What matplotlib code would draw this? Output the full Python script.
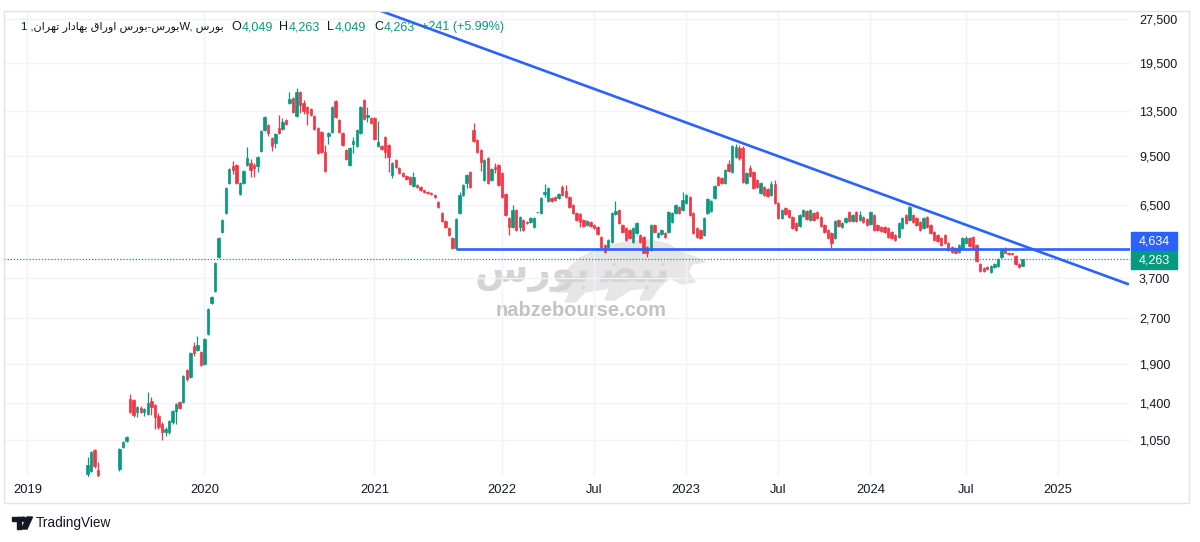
import numpy as np
import matplotlib
matplotlib.use("Agg")
import matplotlib.pyplot as plt
from matplotlib.patches import Rectangle, Ellipse, Polygon
from matplotlib.ticker import NullLocator, NullFormatter

nan = float("nan")

# weekly candles, oldest first (nan = weeks below the visible price range)
opens = [809, 828, 974, 834, nan, nan, nan, nan, nan, 841,
         997, 1044, 1445, 1434, 1307, 1348, 1307, 1287, 1423, 1379,
         1267, 1191, 1120, 1120, 1209, 1317, 1412, 1412, 1808, 1713,
         2177, 2110, 2078, 1893, 2388, 3034, 3329, 4330, 5294, 6131,
         7731, 8821, 8889, 7103, 7731, 8889, 9029, 8889, 8821, 9905,
         11651, 12111, 10951, 10535, 11833, 11742, 12588, 14355, 14923, 12983,
         15630, 14355, 13919, 13707, 12983, 11833, 11473, 9829, 11123, 11473,
         14581, 12588, 11385, 9982, 8889, 10455, 10295, 11385, 14694, 12883,
         12785, 12785, 10295, 10295, 11036, 10375, 8227, 9239, 8685, 8356,
         8164, 8100, 7556, 7615, 7497, 7326, 7214, 7159, 7048, 6677,
         6131, 5764, 5460, 5054, 4650, 6131, 7048, 7731, 8420, 11651,
         10784, 9982, 7915, 9382, 7915, 8753, 8889, 8356, 7103, 5899,
         5503, 6276, 5503, 5809, 5720, 5720, 5503, 6150, 6131, 7103,
         6728, 6887, 6940, 6887, 7497, 7270, 6940, 6524, 6131, 6084,
         5809, 5589, 5720, 5589, 5503, 5093, 4788, 4714, 4900, 6084,
         6276, 5589, 5460, 5377, 4900, 5253, 5173, 5093, 4714, 4606,
         5589, 5093, 5213, 5253, 5294, 5720, 6131, 6424, 6276, 6626,
         6940, 6131, 5460, 5377, 5173, 6131, 6226, 6887, 8100, 8036,
         7731, 8958, 8420, 9455, 10134, 10134, 7731, 8685, 8420, 7915,
         7159, 7497, 7383, 7048, 7672, 6626, 5899, 6374, 6276, 5945,
         5677, 5546, 5991, 6226, 5809, 6131, 6178, 5945, 5589, 5377,
         5253, 5054, 5809, 5503, 5720, 6178, 5764, 6178, 5809, 5945,
         5854, 5634, 6038, 5589, 5503, 5503, 5460, 5294, 5173, 5093,
         5460, 6038, 5809, 6038, 5899, 5720, 5460, 5945, 5589, 5294,
         5173, 5054, 5173, 4862, 4714, 4678, 4535, 4678, 4862, 5054,
         5093, 4788, 4102, 3976, 4007, 3857, 4007, 4038, 4330, 4606,
         4500, 4466, 4364, 4102, 4049]
highs = [923, 967, 982, 888, nan, nan, nan, nan, nan, 990,
         1044, 1086, 1502, 1445, 1369, 1369, 1348, 1525, 1468, 1390,
         1297, 1209, 1164, 1228, 1327, 1401, 1423, 1739, 1822, 2078,
         2244, 2352, 2094, 2315, 2919, 3203, 4166, 5093, 5854, 7497,
         8685, 9168, 8958, 7791, 8551, 10213, 9310, 9029, 9529, 11651,
         12983, 12205, 11036, 11385, 13084, 12785, 12686, 15630, 15039, 16125,
         15750, 14694, 14027, 13813, 13084, 11925, 11561, 10375, 11473, 14027,
         14694, 12686, 11473, 10059, 10213, 11036, 11742, 14027, 14808, 13919,
         12883, 12883, 12491, 10375, 11123, 10455, 9098, 9310, 8753, 8420,
         8227, 8164, 8420, 7672, 7556, 7326, 7230, 7170, 7060, 6728,
         6178, 5809, 5503, 5093, 5899, 7214, 7672, 8290, 8485, 12301,
         10867, 10059, 9310, 9455, 8685, 9029, 8958, 8420, 7159, 5945,
         6524, 6325, 5991, 5854, 5764, 5945, 5945, 6180, 6940, 7672,
         7497, 6940, 6994, 7159, 7615, 7615, 6994, 6575, 6178, 6131,
         5854, 5809, 5764, 5634, 5546, 5133, 4825, 5015, 6178, 6728,
         6325, 5634, 5503, 5419, 5503, 5720, 5213, 5133, 4751, 5634,
         5634, 5294, 5419, 5294, 6226, 6178, 6575, 6474, 7214, 7103,
         6994, 6178, 5503, 5419, 5945, 6887, 6781, 7615, 8164, 8100,
         8618, 9239, 10375, 10455, 10375, 10295, 8420, 8889, 8485, 7976,
         7791, 7556, 7440, 7854, 7915, 6677, 6325, 6424, 6325, 5991,
         5720, 6084, 6325, 6276, 6325, 6178, 6226, 5991, 5634, 5419,
         5294, 5809, 5854, 5720, 5945, 6226, 6084, 6226, 6226, 5991,
         5899, 6226, 6084, 5634, 5546, 5546, 5503, 5336, 5213, 5720,
         5945, 6084, 6474, 6084, 5945, 5764, 5945, 5991, 5634, 5336,
         5213, 5093, 5213, 4900, 4751, 4714, 4825, 5093, 5133, 5093,
         5133, 4825, 4134, 4007, 4038, 4070, 4134, 4297, 4678, 4714,
         4535, 4466, 4398, 4134, 4263]
lows = [790, 822, 847, 790, nan, nan, nan, nan, nan, 828,
        990, 1036, 1297, 1258, 1258, 1297, 1267, 1277, 1277, 1146,
        1146, 1053, 1086, 1102, 1191, 1191, 1337, 1401, 1660, 1700,
        2015, 2094, 1864, 1878, 2370, 3011, 3303, 4297, 5253, 6084,
        7672, 8290, 7672, 7048, 7672, 8821, 8100, 8100, 8420, 9829,
        11561, 11123, 9905, 10134, 11297, 11651, 12111, 14245, 13288, 12883,
        13288, 13186, 12111, 12983, 11651, 9679, 9754, 8420, 10455, 11385,
        12785, 11385, 10295, 9239, 8821, 9754, 10213, 11297, 12588, 12395,
        12205, 10784, 10213, 9982, 9382, 8420, 8036, 8685, 8290, 8100,
        7915, 7615, 7497, 7440, 7270, 7159, 7100, 7048, 6887, 6374,
        5720, 5460, 5133, 4640, 4634, 6084, 6994, 7440, 7440, 10619,
        9754, 8485, 7854, 7672, 7854, 8356, 7556, 6887, 5991, 5173,
        5460, 5336, 5336, 5336, 5634, 5677, 5460, 6130, 6084, 6940,
        6677, 6677, 6728, 6834, 6994, 6887, 6374, 6084, 5764, 5503,
        5503, 5546, 5503, 5419, 5173, 4678, 4500, 4678, 4862, 6038,
        5634, 5253, 4938, 5015, 4862, 5213, 4862, 4466, 4330, 4570,
        5253, 5054, 5173, 5054, 5253, 5677, 6084, 6084, 6226, 6575,
        5991, 5213, 5054, 5015, 5133, 6084, 6178, 6834, 7556, 7672,
        7672, 8420, 8356, 9382, 9239, 7731, 7672, 8100, 7383, 7440,
        7103, 6994, 6940, 6994, 6575, 5854, 5854, 6038, 5899, 5419,
        5336, 5503, 5945, 5809, 5764, 5764, 5854, 5503, 5253, 5015,
        4678, 5015, 5503, 5460, 5677, 5720, 5720, 5720, 5764, 5677,
        5546, 5589, 5336, 5336, 5290, 5253, 5054, 5015, 4938, 5054,
        5419, 5634, 5764, 5677, 5546, 5336, 5419, 5460, 5213, 4938,
        4900, 4751, 4825, 4570, 4500, 4466, 4500, 4641, 4825, 4714,
        4641, 4166, 3857, 3857, 3916, 3827, 3976, 4007, 4297, 4466,
        4415, 4398, 4070, 3976, 4049]
closes = [867, 959, 860, 803, nan, nan, nan, nan, nan, 982,
          1036, 1077, 1307, 1277, 1358, 1307, 1337, 1401, 1358, 1258,
          1164, 1120, 1146, 1219, 1317, 1390, 1348, 1725, 1686, 2062,
          2062, 2193, 1878, 2297, 2897, 3178, 4134, 5054, 5809, 7440,
          8618, 8551, 7731, 7731, 8485, 9382, 8551, 8685, 9455, 11561,
          12883, 11385, 10295, 11297, 11385, 12395, 12205, 14808, 13391, 15630,
          14136, 13495, 13288, 13084, 11742, 9754, 9829, 8485, 11385, 13919,
          12883, 11473, 10375, 9310, 10134, 10701, 11651, 13919, 12686, 13084,
          12301, 10867, 10619, 10059, 9829, 9455, 9029, 8753, 8356, 8164,
          7976, 7672, 8100, 7497, 7326, 7214, 7130, 7060, 6940, 6424,
          5764, 5503, 5173, 4660, 5854, 7048, 7615, 8227, 7497, 10701,
          9829, 9098, 9239, 7731, 8618, 8618, 7615, 6940, 6038, 5503,
          6276, 5377, 5945, 5377, 5677, 5899, 5899, 6178, 6887, 7214,
          7440, 6728, 6781, 7103, 7048, 6940, 6424, 6131, 5809, 5720,
          5546, 5764, 5546, 5460, 5213, 4714, 4535, 4977, 6131, 6226,
          5677, 5294, 4977, 5054, 5460, 5677, 4900, 4500, 4466, 5589,
          5294, 5253, 5377, 5093, 6178, 6131, 6524, 6131, 6781, 7048,
          6038, 5253, 5093, 5054, 5899, 6834, 6728, 7556, 7615, 7731,
          8551, 8485, 10295, 10213, 9382, 7791, 8356, 8164, 7440, 7497,
          7731, 7048, 6994, 7672, 6626, 5899, 6276, 6084, 5945, 5460,
          5377, 6038, 6276, 5854, 6276, 5809, 5899, 5546, 5294, 5054,
          4862, 5764, 5546, 5677, 5899, 5764, 6038, 5764, 6038, 5720,
          5589, 6178, 5377, 5377, 5336, 5294, 5093, 5054, 4977, 5677,
          5899, 5677, 6424, 5720, 5589, 5377, 5899, 5503, 5253, 4977,
          4938, 4788, 4862, 4606, 4535, 4500, 4788, 5054, 5054, 4751,
          4678, 4199, 3886, 3886, 3946, 4038, 4102, 4264, 4606, 4500,
          4432, 4432, 4102, 4022, 4263]

# drawings on the chart
support_level = 4634
support_start = 104
trend_bars = [75, 294]
trend_prices = [31650, 3514]

price_ticks = [1050, 1400, 1900, 2700, 3700, 6500, 9500, 13500, 19500, 27500]
time_tick_bars = [-17, 33, 81, 117, 143, 169, 195, 221, 248, 274]
time_tick_labels = ["2019", "2020", "2021", "2022", "Jul", "2023", "Jul", "2024", "Jul", "2025"]

GREEN = "#089981"
RED = "#F23645"
BLUE = "#2962FF"
TEXT = "#131722"
GRID = "#f0f3fa"

plt.rcParams["font.family"] = ["Liberation Sans", "DejaVu Sans"]

W, H = 1200, 542
fig = plt.figure(figsize=(W / 100, H / 100), dpi=100)
fig.patch.set_facecolor("white")


def fx(px):
    return px / W


def fy(py):
    return 1 - py / H


ax = fig.add_axes([fx(4), fy(477), fx(1130) - fx(4), fy(11) - fy(477)])
ax.set_facecolor("none")
ax.set_yscale("log")
ax.set_xlim(-23.6, 294.3)
ax.set_ylim(790, 29250)

o = np.array(opens, dtype=float)
hi = np.array(highs, dtype=float)
lo = np.array(lows, dtype=float)
c = np.array(closes, dtype=float)
x = np.arange(len(o))
ok = ~np.isnan(o)
cols = np.where(c >= o, GREEN, RED)
ax.vlines(x[ok], lo[ok], hi[ok], colors=cols[ok], linewidth=0.9, zorder=3)
ax.bar(x[ok], np.abs(c - o)[ok], bottom=np.minimum(o, c)[ok], width=0.68,
       color=cols[ok], edgecolor=cols[ok], linewidth=0.5, zorder=4)

# trend line, support line, last price line
ax.plot(trend_bars, trend_prices, color=BLUE, lw=1.9, zorder=5, solid_capstyle="butt")
ax.hlines(support_level, support_start, ax.get_xlim()[1], color=BLUE, lw=1.9, zorder=5)
ax.axhline(c[-1], color=GREEN, lw=0.9, ls=(0, (1, 1.5)), zorder=2)

ax.set_yticks(price_ticks)
ax.set_yticklabels([f"{p:,}" for p in price_ticks])
ax.yaxis.set_minor_locator(NullLocator())
ax.yaxis.set_minor_formatter(NullFormatter())
ax.yaxis.tick_right()
ax.tick_params(axis="y", length=0, pad=6.5, labelsize=9, labelcolor=TEXT)
ax.set_xticks(time_tick_bars, time_tick_labels)
ax.tick_params(axis="x", length=0, pad=5, labelsize=9.3, labelcolor=TEXT)
for s in ax.spines.values():
    s.set_visible(False)
ax.grid(True, color=GRID, linewidth=1, zorder=0)

# price labels on the scale
for price, colr, shift in [(support_level, BLUE, 7.5), (int(c[-1]), GREEN, -1)]:
    yc = ax.transData.transform((0, price))[1] + shift
    fig.patches.append(Rectangle((fx(1130.5), (yc - 9) / H), 46.5 / W, 18 / H,
                                 transform=fig.transFigure, color=colr, zorder=5))
    fig.text(fx(1139), yc / H, f"{price:,}", color="white", fontsize=9,
             va="center", ha="left", zorder=6)

# outer frame
fig.patches.append(Rectangle((fx(4), fy(503)), (1189 - 4) / W, (503 - 11) / H,
                             transform=fig.transFigure, fill=False, ec="#e0e3eb", lw=1))

# legend line (Persian text in shaped presentation forms, visual order)
bourse = "\uFEB1\uFEAD\uFEEE\uFE91"
owragh = "\uFED5\uFE8D\uFEAD\uFEED\uFE8D"
bahadar = "\uFEAD\uFE8D\uFEA9\uFE8E\uFEEC\uFE91"
tehran = "\uFEE5\uFE8D\uFEAE\uFEEC\uFE97"
nabz = "\uFEC0\uFE92\uFEE7"
title = "1 ," + tehran + " " + bahadar + " " + owragh + " " + bourse + "-" + bourse + "W, " + bourse
fig.text(fx(21), fy(27), title, fontsize=8.1, color=TEXT, va="center", ha="left")

change = c[-1] - c[-2]
legend_items = [("O", 231.5, TEXT), (f"{int(o[-1]):,}", 241.5, GREEN),
                ("H", 279.4, TEXT), (f"{int(hi[-1]):,}", 289, GREEN),
                ("L", 327.2, TEXT), (f"{int(lo[-1]):,}", 335, GREEN),
                ("C", 374.3, TEXT), (f"{int(c[-1]):,}", 383.5, GREEN),
                (f"+{int(change)} (+{change / c[-2] * 100:.2f}%)", 421, GREEN)]
for txt, px, colr in legend_items:
    fig.text(fx(px), fy(27), txt, fontsize=9, color=colr, va="center", ha="left")

# watermark: bull silhouette, logo text and site address
bull = [(555, 292), (565, 272), (580, 258), (600, 248), (625, 242), (650, 240),
        (668, 244), (680, 252), (692, 256), (705, 262), (692, 264), (688, 272),
        (695, 282), (682, 284), (670, 278), (660, 286), (650, 300), (640, 300),
        (645, 288), (630, 290), (615, 300), (605, 300), (610, 288), (585, 292),
        (575, 302), (565, 302), (570, 292)]
fig.patches.append(Polygon([(fx(px), fy(py)) for px, py in bull], closed=True,
                           transform=fig.transFigure, color="#e6e6e6", zorder=-2))
fig.text(fx(572), fy(274), bourse + " " + nabz, fontsize=28, weight="bold",
         color="#d4d4d4", ha="center", va="center", zorder=-1)
fig.text(fx(581), fy(311), "nabzebourse.com", fontsize=14.5, weight="bold",
         color="#c3c3c3", ha="center", va="center", zorder=-1)

# TradingView mark
for patch in [Rectangle((fx(12), fy(521)), 9 / W, 4 / H),
              Rectangle((fx(16.5), fy(529)), 4.5 / W, 12 / H),
              Ellipse((fx(23.5), fy(519.2)), 4.2 / W, 4.2 / H),
              Polygon([(fx(27), fy(517)), (fx(32.5), fy(517)), (fx(27), fy(529)), (fx(21.5), fy(529))])]:
    patch.set_transform(fig.transFigure)
    patch.set_color(TEXT)
    fig.patches.append(patch)
fig.text(fx(36), fy(523), "TradingView", fontsize=9.8, color=TEXT, va="center", ha="left")

fig.savefig("out.png", dpi=100, facecolor="white")
